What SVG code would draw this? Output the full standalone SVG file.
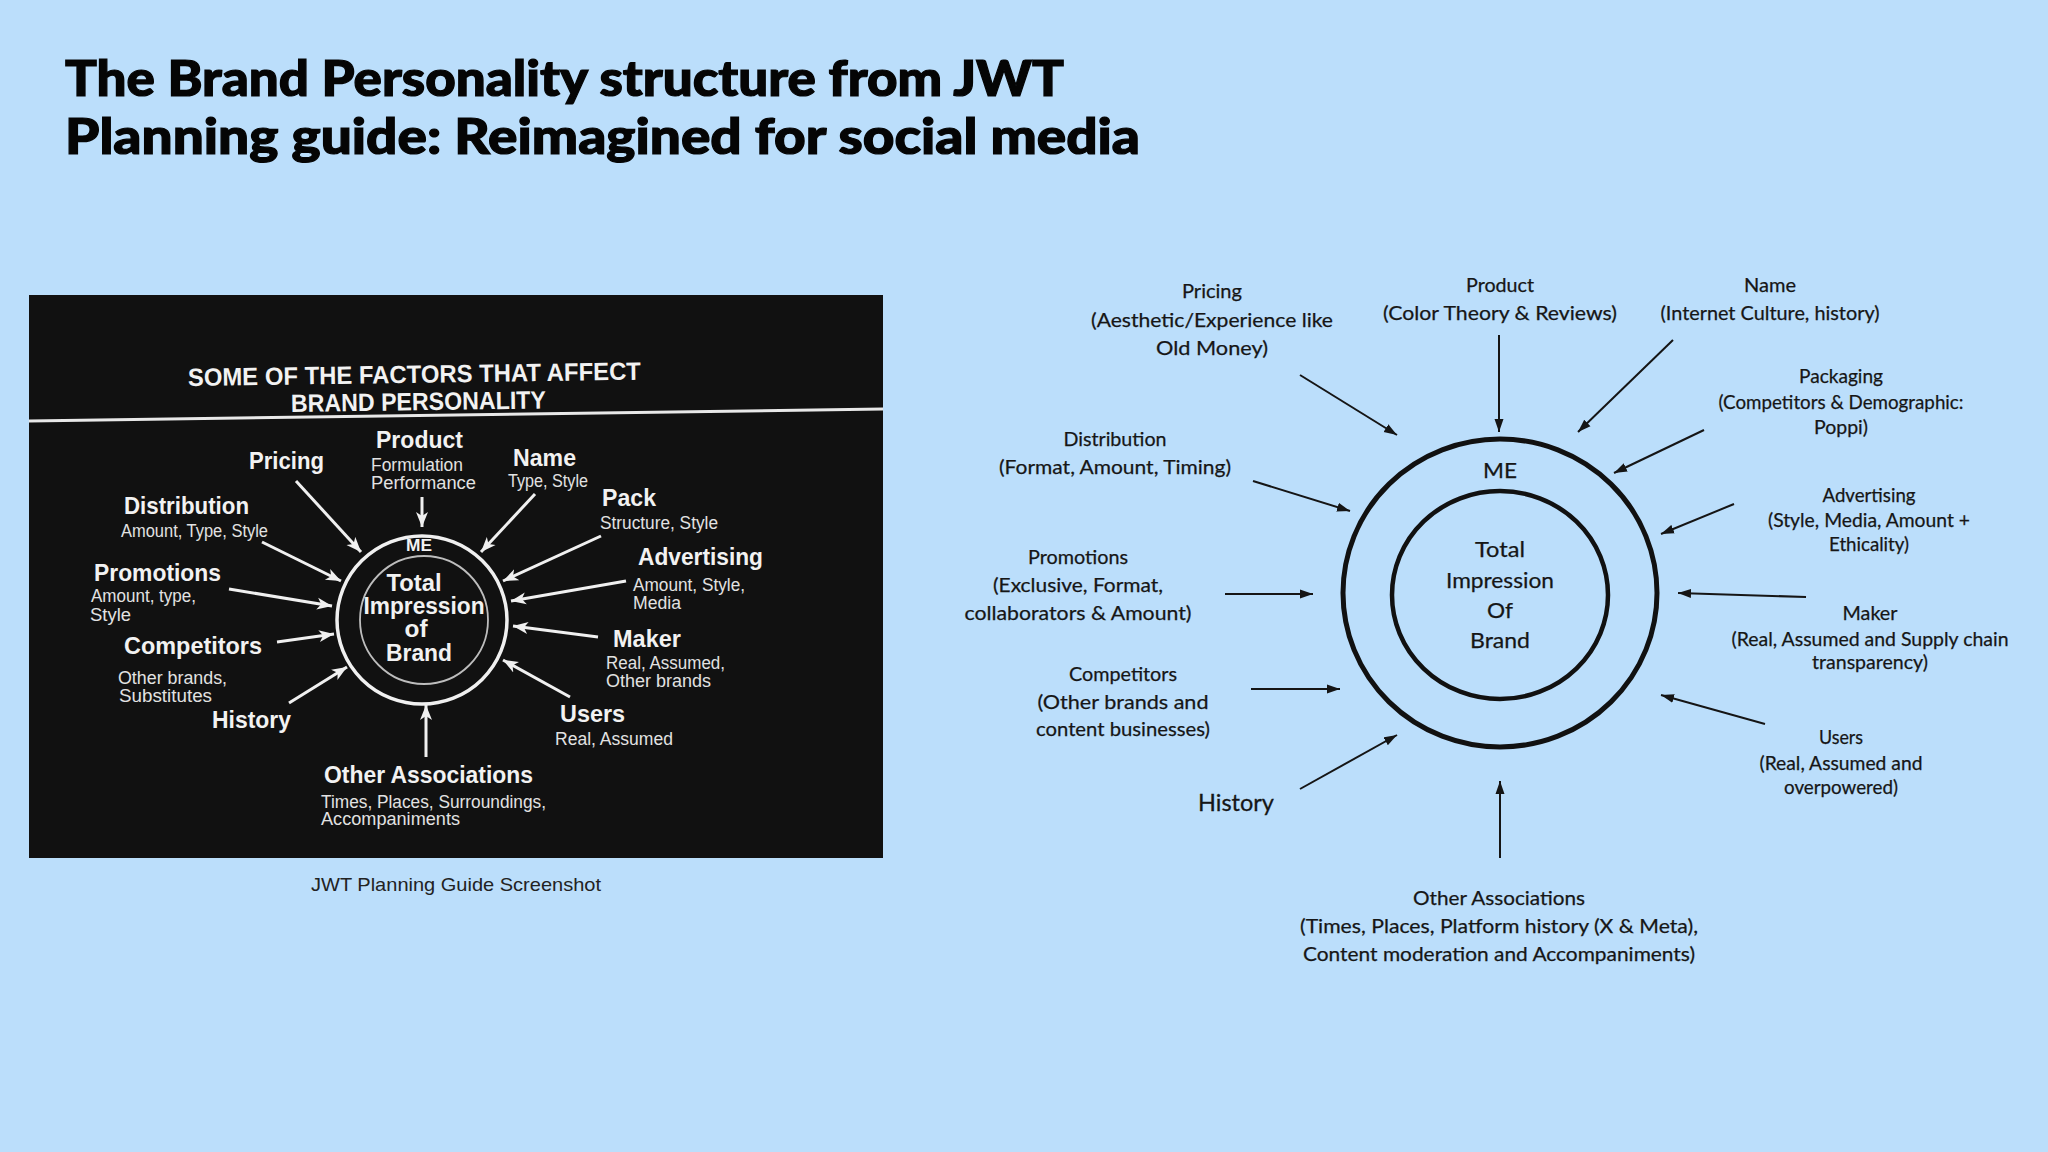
<svg xmlns="http://www.w3.org/2000/svg" width="2048" height="1152" viewBox="0 0 2048 1152">
<defs>
<marker id="ah" markerUnits="userSpaceOnUse" markerWidth="14" markerHeight="10" refX="13" refY="5" orient="auto"><path d="M0,0.5 L13,5 L0,9.5 z" fill="#151515"/></marker>
<marker id="wh" markerUnits="userSpaceOnUse" markerWidth="16" markerHeight="14" refX="15" refY="7" orient="auto"><path d="M0,1 L15,7 L0,13 L4,7 z" fill="#f0f0f0"/></marker>
</defs>
<style>
.title{font-family:Lato,"Liberation Sans",sans-serif;font-weight:900;font-size:49px;fill:#050505;stroke:#050505;stroke-width:1.2}
.hd{font-family:"Liberation Sans",Arial,sans-serif;font-weight:bold;font-size:25px;fill:#f2f2f2}
.lb{font-family:"Liberation Sans",Arial,sans-serif;font-weight:bold;font-size:24.5px;fill:#f2f2f2}
.ls{font-family:"Liberation Sans",Arial,sans-serif;font-size:17.5px;fill:#e2e2e2}
.ct{font-family:"Liberation Sans",Arial,sans-serif;font-weight:bold;font-size:23px;fill:#f2f2f2;text-anchor:middle}
.me{font-family:"Liberation Sans",Arial,sans-serif;font-weight:bold;font-size:16px;fill:#f2f2f2;text-anchor:middle}
.cap{font-family:"Liberation Sans",Arial,sans-serif;font-size:19px;fill:#222}
.r{font-family:Lato,"Liberation Sans",sans-serif;font-size:20px;fill:#161616;stroke:#161616;stroke-width:0.25;text-anchor:middle}
.rh{font-family:Lato,"Liberation Sans",sans-serif;font-size:24px;fill:#161616;stroke:#161616;stroke-width:0.3;text-anchor:middle}
.wl{stroke:#f0f0f0;stroke-width:3;fill:none;marker-end:url(#wh)}
.bl{stroke:#151515;stroke-width:2;fill:none;marker-end:url(#ah)}
</style>
<rect width="2048" height="1152" fill="#BBDEFB"/>

<g id="title">
<text class="title" x="65" y="96" textLength="999" lengthAdjust="spacingAndGlyphs">The Brand Personality structure from JWT</text>
<text class="title" x="65" y="154" textLength="1075" lengthAdjust="spacingAndGlyphs">Planning guide: Reimagined for social media</text>
</g>

<g id="jwt-screenshot">
<rect x="29" y="295" width="854" height="563" fill="#111111"/>
<text class="hd" x="188" y="386" textLength="453" lengthAdjust="spacingAndGlyphs" transform="rotate(-0.8 188 386)">SOME OF THE FACTORS THAT AFFECT</text>
<text class="hd" x="291" y="412" textLength="255" lengthAdjust="spacingAndGlyphs" transform="rotate(-0.8 291 412)">BRAND PERSONALITY</text>
<line x1="29" y1="421" x2="883" y2="409" stroke="#e8e8e8" stroke-width="3"/>

<g id="jwt-center">
<ellipse cx="422" cy="620" rx="85" ry="84" fill="none" stroke="#f0f0f0" stroke-width="3.5"/>
<ellipse cx="424" cy="620" rx="64" ry="64" fill="none" stroke="#bdbdbd" stroke-width="1.8"/>
<text class="me" x="419" y="551" textLength="26" lengthAdjust="spacingAndGlyphs">ME</text>
<text class="ct" x="414" y="591" textLength="55" lengthAdjust="spacingAndGlyphs">Total</text>
<text class="ct" x="424" y="614" textLength="121" lengthAdjust="spacingAndGlyphs">Impression</text>
<text class="ct" x="416" y="637" textLength="23" lengthAdjust="spacingAndGlyphs">of</text>
<text class="ct" x="419" y="661" textLength="66" lengthAdjust="spacingAndGlyphs">Brand</text>
</g>

<g id="jwt-pricing"><text class="lb" x="249" y="469" textLength="75" lengthAdjust="spacingAndGlyphs">Pricing</text></g>
<g id="jwt-product">
<text class="lb" x="376" y="448" textLength="87" lengthAdjust="spacingAndGlyphs">Product</text>
<text class="ls" x="371" y="471" textLength="92" lengthAdjust="spacingAndGlyphs">Formulation</text>
<text class="ls" x="371" y="489" textLength="105" lengthAdjust="spacingAndGlyphs">Performance</text>
</g>
<g id="jwt-name">
<text class="lb" x="513" y="466" textLength="63" lengthAdjust="spacingAndGlyphs">Name</text>
<text class="ls" x="508" y="487" textLength="80" lengthAdjust="spacingAndGlyphs">Type, Style</text>
</g>
<g id="jwt-distribution">
<text class="lb" x="124" y="514" textLength="125" lengthAdjust="spacingAndGlyphs">Distribution</text>
<text class="ls" x="121" y="537" textLength="147" lengthAdjust="spacingAndGlyphs">Amount, Type, Style</text>
</g>
<g id="jwt-pack">
<text class="lb" x="602" y="506" textLength="54" lengthAdjust="spacingAndGlyphs">Pack</text>
<text class="ls" x="600" y="529" textLength="118" lengthAdjust="spacingAndGlyphs">Structure, Style</text>
</g>
<g id="jwt-promotions">
<text class="lb" x="94" y="581" textLength="127" lengthAdjust="spacingAndGlyphs">Promotions</text>
<text class="ls" x="91" y="602" textLength="105" lengthAdjust="spacingAndGlyphs">Amount, type,</text>
<text class="ls" x="90" y="621" textLength="41" lengthAdjust="spacingAndGlyphs">Style</text>
</g>
<g id="jwt-advertising">
<text class="lb" x="638" y="565" textLength="125" lengthAdjust="spacingAndGlyphs">Advertising</text>
<text class="ls" x="633" y="591" textLength="112" lengthAdjust="spacingAndGlyphs">Amount, Style,</text>
<text class="ls" x="633" y="609" textLength="48" lengthAdjust="spacingAndGlyphs">Media</text>
</g>
<g id="jwt-competitors">
<text class="lb" x="124" y="654" textLength="138" lengthAdjust="spacingAndGlyphs">Competitors</text>
<text class="ls" x="118" y="684" textLength="109" lengthAdjust="spacingAndGlyphs">Other brands,</text>
<text class="ls" x="119" y="702" textLength="93" lengthAdjust="spacingAndGlyphs">Substitutes</text>
</g>
<g id="jwt-maker">
<text class="lb" x="613" y="647" textLength="68" lengthAdjust="spacingAndGlyphs">Maker</text>
<text class="ls" x="606" y="669" textLength="119" lengthAdjust="spacingAndGlyphs">Real, Assumed,</text>
<text class="ls" x="606" y="687" textLength="105" lengthAdjust="spacingAndGlyphs">Other brands</text>
</g>
<g id="jwt-history"><text class="lb" x="212" y="728" textLength="79" lengthAdjust="spacingAndGlyphs">History</text></g>
<g id="jwt-users">
<text class="lb" x="560" y="722" textLength="65" lengthAdjust="spacingAndGlyphs">Users</text>
<text class="ls" x="555" y="745" textLength="118" lengthAdjust="spacingAndGlyphs">Real, Assumed</text>
</g>
<g id="jwt-other">
<text class="lb" x="324" y="783" textLength="209" lengthAdjust="spacingAndGlyphs">Other Associations</text>
<text class="ls" x="321" y="808" textLength="225" lengthAdjust="spacingAndGlyphs">Times, Places, Surroundings,</text>
<text class="ls" x="321" y="825" textLength="139" lengthAdjust="spacingAndGlyphs">Accompaniments</text>
</g>

<g id="jwt-connectors">
<line class="wl" x1="296" y1="481" x2="361" y2="552"/>
<line class="wl" x1="422" y1="497" x2="422" y2="527"/>
<line class="wl" x1="535" y1="494" x2="481" y2="552"/>
<line class="wl" x1="262" y1="542" x2="341" y2="581"/>
<line class="wl" x1="601" y1="536" x2="503" y2="581"/>
<line class="wl" x1="229" y1="589" x2="332" y2="606"/>
<line class="wl" x1="626" y1="581" x2="511" y2="601"/>
<line class="wl" x1="277" y1="642" x2="334" y2="634"/>
<line class="wl" x1="598" y1="637" x2="513" y2="626"/>
<line class="wl" x1="289" y1="703" x2="347" y2="667"/>
<line class="wl" x1="570" y1="697" x2="503" y2="660"/>
<line class="wl" x1="426" y1="757" x2="426" y2="705"/>
</g>
</g>
<text class="cap" x="311" y="891" textLength="290" lengthAdjust="spacingAndGlyphs">JWT Planning Guide Screenshot</text>

<g id="center">
<ellipse cx="1500" cy="593" rx="157" ry="154" fill="none" stroke="#111" stroke-width="5"/>
<ellipse cx="1500" cy="595" rx="108" ry="104" fill="none" stroke="#111" stroke-width="4.5"/>
<text class="r" x="1500" y="478" style="font-size:22px" textLength="34" lengthAdjust="spacingAndGlyphs">ME</text>
<text class="r" x="1500" y="557" style="font-size:22px" textLength="50" lengthAdjust="spacingAndGlyphs">Total</text>
<text class="r" x="1500" y="588" style="font-size:22px" textLength="108" lengthAdjust="spacingAndGlyphs">Impression</text>
<text class="r" x="1500" y="618" style="font-size:22px" textLength="26" lengthAdjust="spacingAndGlyphs">Of</text>
<text class="r" x="1500" y="648" style="font-size:22px" textLength="60" lengthAdjust="spacingAndGlyphs">Brand</text>
</g>

<g id="pricing">
<text class="r" x="1212" y="298" textLength="60" lengthAdjust="spacingAndGlyphs">Pricing</text>
<text class="r" x="1212" y="327" textLength="242" lengthAdjust="spacingAndGlyphs">(Aesthetic/Experience like</text>
<text class="r" x="1212" y="355" textLength="112" lengthAdjust="spacingAndGlyphs">Old Money)</text>
</g>
<g id="product">
<text class="r" x="1500" y="292" textLength="68" lengthAdjust="spacingAndGlyphs">Product</text>
<text class="r" x="1500" y="320" textLength="234" lengthAdjust="spacingAndGlyphs">(Color Theory &amp; Reviews)</text>
</g>
<g id="name">
<text class="r" x="1770" y="292" textLength="52" lengthAdjust="spacingAndGlyphs">Name</text>
<text class="r" x="1770" y="320" textLength="219" lengthAdjust="spacingAndGlyphs">(Internet Culture, history)</text>
</g>
<g id="packaging">
<text class="r" x="1841" y="383" textLength="84" lengthAdjust="spacingAndGlyphs">Packaging</text>
<text class="r" x="1841" y="409" textLength="245" lengthAdjust="spacingAndGlyphs">(Competitors &amp; Demographic:</text>
<text class="r" x="1841" y="434" textLength="54" lengthAdjust="spacingAndGlyphs">Poppi)</text>
</g>
<g id="distribution">
<text class="r" x="1115" y="446" textLength="103" lengthAdjust="spacingAndGlyphs">Distribution</text>
<text class="r" x="1115" y="474" textLength="232" lengthAdjust="spacingAndGlyphs">(Format, Amount, Timing)</text>
</g>
<g id="advertising">
<text class="r" x="1869" y="502" textLength="93" lengthAdjust="spacingAndGlyphs">Advertising</text>
<text class="r" x="1869" y="527" textLength="202" lengthAdjust="spacingAndGlyphs">(Style, Media, Amount +</text>
<text class="r" x="1869" y="551" textLength="80" lengthAdjust="spacingAndGlyphs">Ethicality)</text>
</g>
<g id="promotions">
<text class="r" x="1078" y="564" textLength="100" lengthAdjust="spacingAndGlyphs">Promotions</text>
<text class="r" x="1078" y="592" textLength="170" lengthAdjust="spacingAndGlyphs">(Exclusive, Format,</text>
<text class="r" x="1078" y="620" textLength="227" lengthAdjust="spacingAndGlyphs">collaborators &amp; Amount)</text>
</g>
<g id="maker">
<text class="r" x="1870" y="620" textLength="55" lengthAdjust="spacingAndGlyphs">Maker</text>
<text class="r" x="1870" y="646" textLength="277" lengthAdjust="spacingAndGlyphs">(Real, Assumed and Supply chain</text>
<text class="r" x="1870" y="669" textLength="116" lengthAdjust="spacingAndGlyphs">transparency)</text>
</g>
<g id="competitors">
<text class="r" x="1123" y="681" textLength="108" lengthAdjust="spacingAndGlyphs">Competitors</text>
<text class="r" x="1123" y="709" textLength="171" lengthAdjust="spacingAndGlyphs">(Other brands and</text>
<text class="r" x="1123" y="736" textLength="174" lengthAdjust="spacingAndGlyphs">content businesses)</text>
</g>
<g id="users">
<text class="r" x="1841" y="744" textLength="44" lengthAdjust="spacingAndGlyphs">Users</text>
<text class="r" x="1841" y="770" textLength="163" lengthAdjust="spacingAndGlyphs">(Real, Assumed and</text>
<text class="r" x="1841" y="794" textLength="114" lengthAdjust="spacingAndGlyphs">overpowered)</text>
</g>
<g id="history">
<text class="rh" x="1236" y="811" textLength="76" lengthAdjust="spacingAndGlyphs">History</text>
</g>
<g id="other-associations">
<text class="r" x="1499" y="905" textLength="172" lengthAdjust="spacingAndGlyphs">Other Associations</text>
<text class="r" x="1499" y="933" textLength="398" lengthAdjust="spacingAndGlyphs">(Times, Places, Platform history (X &amp; Meta),</text>
<text class="r" x="1499" y="961" textLength="392" lengthAdjust="spacingAndGlyphs">Content moderation and Accompaniments)</text>
</g>

<g id="connectors">
<line class="bl" x1="1300" y1="375" x2="1397" y2="435"/>
<line class="bl" x1="1499" y1="335" x2="1499" y2="432"/>
<line class="bl" x1="1673" y1="340" x2="1578" y2="432"/>
<line class="bl" x1="1704" y1="430" x2="1614" y2="473"/>
<line class="bl" x1="1253" y1="481" x2="1350" y2="511"/>
<line class="bl" x1="1734" y1="504" x2="1661" y2="534"/>
<line class="bl" x1="1225" y1="594" x2="1313" y2="594"/>
<line class="bl" x1="1806" y1="597" x2="1678" y2="593"/>
<line class="bl" x1="1251" y1="689" x2="1340" y2="689"/>
<line class="bl" x1="1765" y1="724" x2="1661" y2="695"/>
<line class="bl" x1="1300" y1="789" x2="1397" y2="735"/>
<line class="bl" x1="1500" y1="858" x2="1500" y2="781"/>
</g>
</svg>
